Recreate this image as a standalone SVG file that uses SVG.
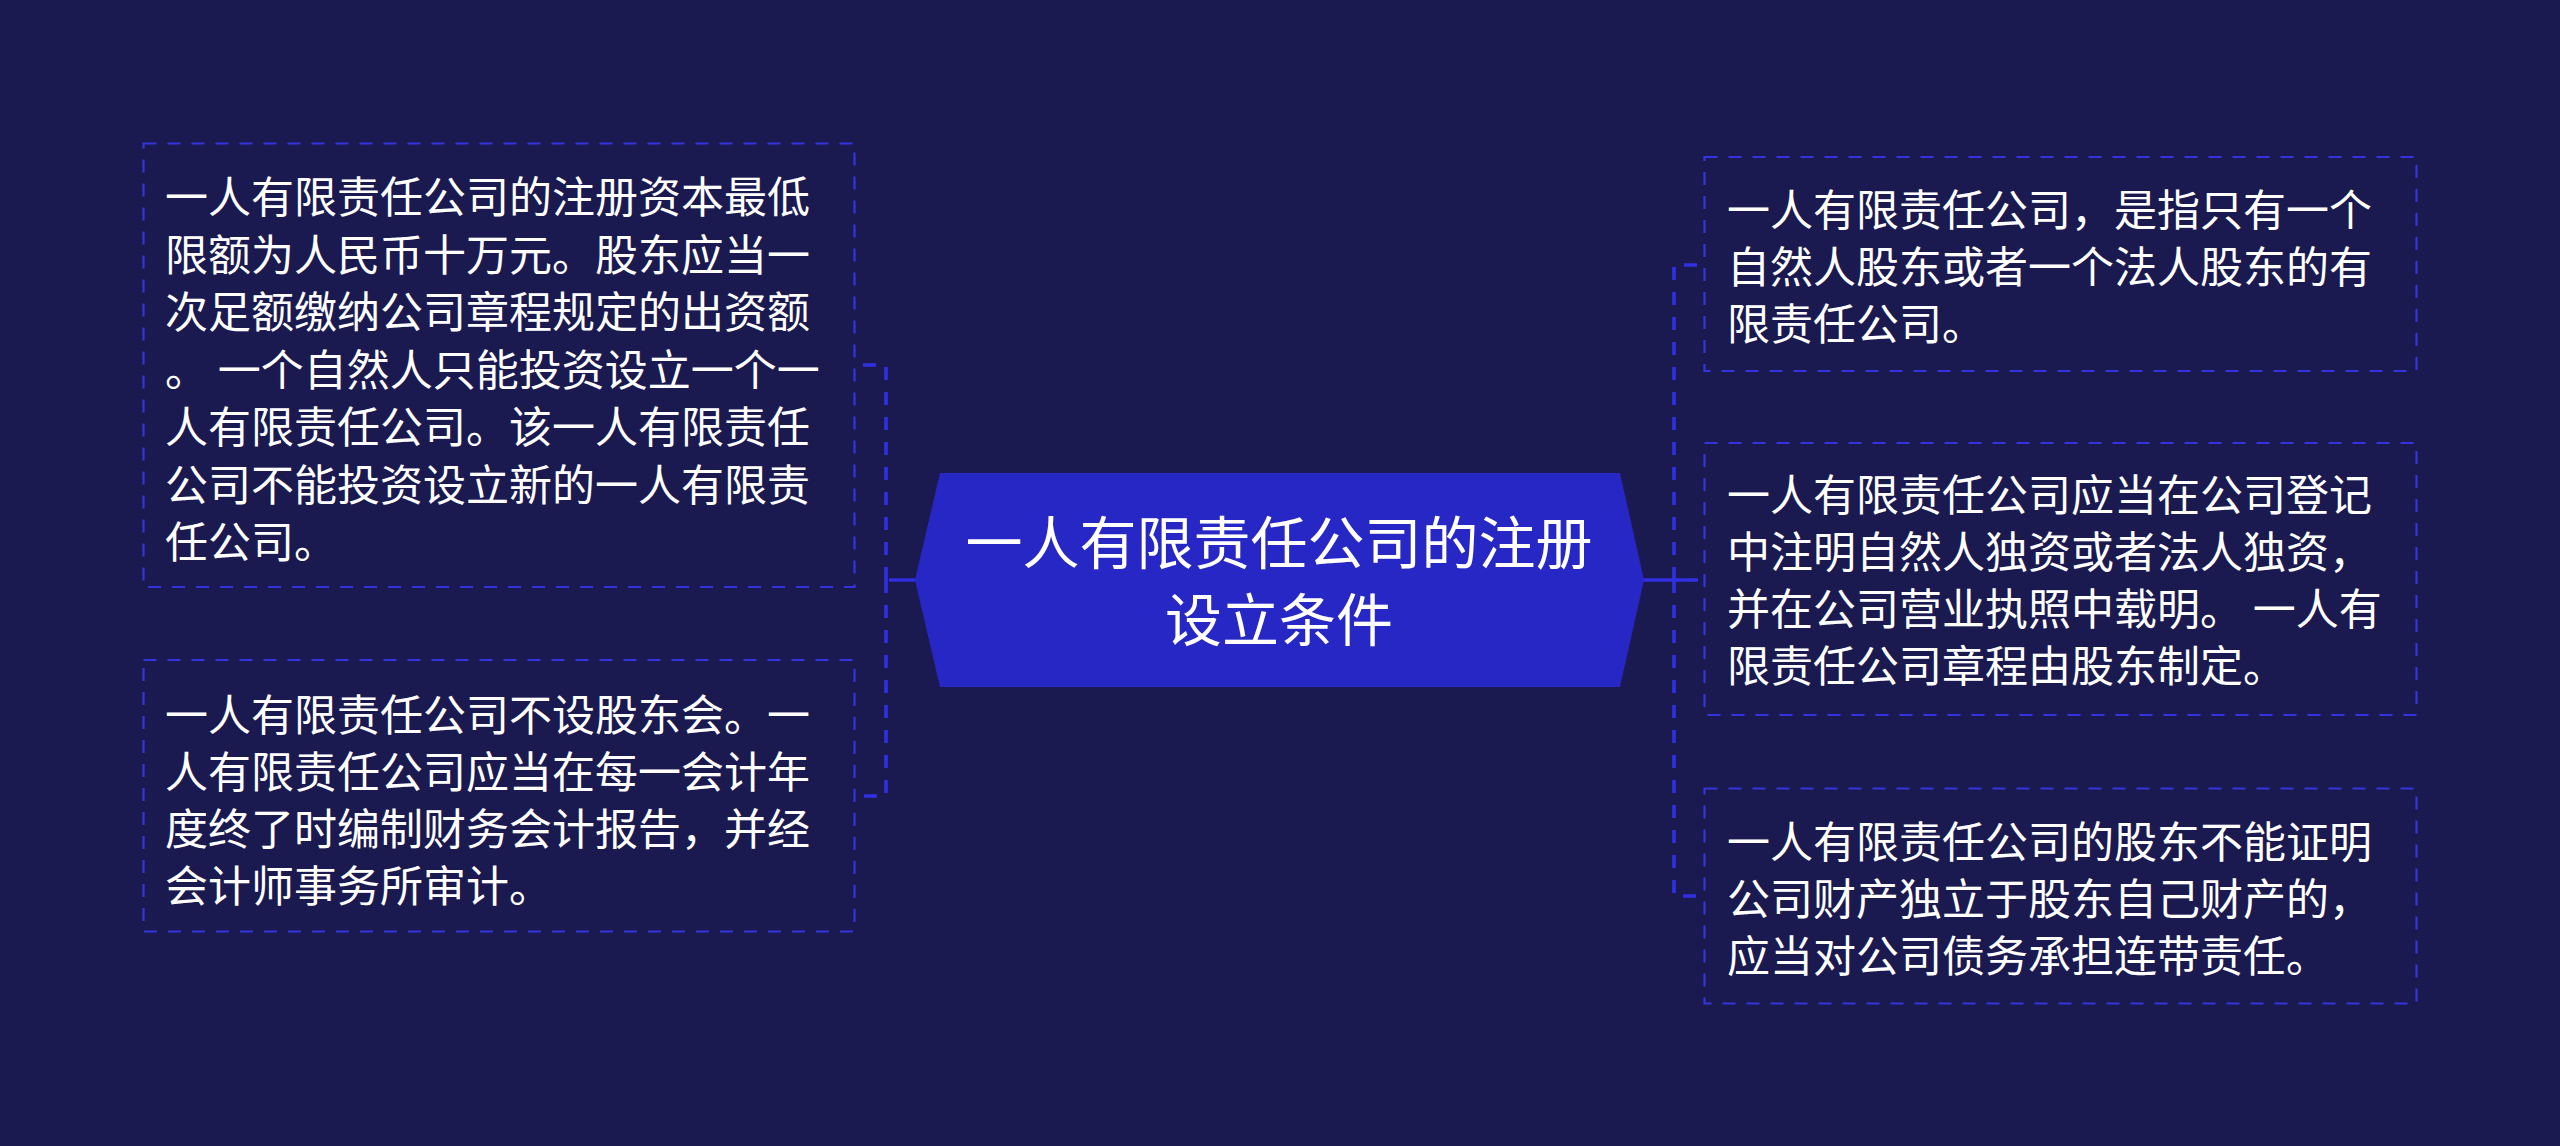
<svg xmlns="http://www.w3.org/2000/svg" width="2560" height="1146" viewBox="0 0 2560 1146">
  <style>
    .bg { fill: #1B1A50; }
    .box { fill: none; stroke: #3434DC; stroke-width: 2.2; stroke-dasharray: 13 11; }
    .txt { font-family: "Noto Sans CJK SC", "Noto Sans", sans-serif; font-size: 43px; fill: #FFFFFF; }
    .title { font-family: "Noto Sans CJK SC", "Noto Sans", sans-serif; font-size: 57px; fill: #FFFFFF; text-anchor: middle; }
    .conn { fill: none; stroke: #3030E2; stroke-width: 3.6; stroke-dasharray: 13 12; }
    .solid { fill: none; stroke: #3030E2; stroke-width: 3.4; }
    .root { fill: #2727C6; }
  </style>
  <rect class="bg" x="0" y="0" width="2560" height="1146"/>

  <g id="connectors">
    <line class="solid" x1="889" y1="580" x2="916" y2="580"/>
    <path class="conn" d="M 886 580 V 365 H 855"/>
    <path class="conn" d="M 886 580 V 796 H 855"/>
    <line class="solid" x1="1643" y1="580" x2="1685" y2="580"/>
    <path class="conn" d="M 1674 580 V 265 H 1705"/>
    <path class="conn" d="M 1685 580 H 1705"/>
    <path class="conn" d="M 1674 580 V 896 H 1705"/>
  </g>

  <g id="root">
    <polygon class="root" points="940,473 1620,473 1644,580 1620,687 940,687 915,580"/>
    <text class="title" x="1279" y="564">一人有限责任公司的注册</text>
    <text class="title" x="1279" y="641">设立条件</text>
  </g>

  <g id="left1">
    <rect class="box" x="143.5" y="143.5" width="711" height="443.5"/>
    <text class="txt" x="165" y="213">一人有限责任公司的注册资本最低</text>
    <text class="txt" x="165" y="270.5">限额为人民币十万元。股东应当一</text>
    <text class="txt" x="165" y="328">次足额缴纳公司章程规定的出资额</text>
    <text class="txt" x="165" y="385.5">。 一个自然人只能投资设立一个一</text>
    <text class="txt" x="165" y="443">人有限责任公司。该一人有限责任</text>
    <text class="txt" x="165" y="500.5">公司不能投资设立新的一人有限责</text>
    <text class="txt" x="165" y="558">任公司。</text>
  </g>

  <g id="left2">
    <rect class="box" x="143.5" y="660" width="711" height="271.5"/>
    <text class="txt" x="165" y="731">一人有限责任公司不设股东会。一</text>
    <text class="txt" x="165" y="788">人有限责任公司应当在每一会计年</text>
    <text class="txt" x="165" y="845">度终了时编制财务会计报告，并经</text>
    <text class="txt" x="165" y="902">会计师事务所审计。</text>
  </g>

  <g id="right1">
    <rect class="box" x="1704.5" y="157" width="712" height="214"/>
    <text class="txt" x="1727" y="226">一人有限责任公司，是指只有一个</text>
    <text class="txt" x="1727" y="283">自然人股东或者一个法人股东的有</text>
    <text class="txt" x="1727" y="340">限责任公司。</text>
  </g>

  <g id="right2">
    <rect class="box" x="1704.5" y="443" width="712" height="272"/>
    <text class="txt" x="1727" y="511">一人有限责任公司应当在公司登记</text>
    <text class="txt" x="1727" y="568">中注明自然人独资或者法人独资，</text>
    <text class="txt" x="1727" y="625">并在公司营业执照中载明。 一人有</text>
    <text class="txt" x="1727" y="682">限责任公司章程由股东制定。</text>
  </g>

  <g id="right3">
    <rect class="box" x="1704.5" y="788.5" width="712" height="215"/>
    <text class="txt" x="1727" y="858">一人有限责任公司的股东不能证明</text>
    <text class="txt" x="1727" y="915">公司财产独立于股东自己财产的，</text>
    <text class="txt" x="1727" y="972">应当对公司债务承担连带责任。</text>
  </g>
</svg>
